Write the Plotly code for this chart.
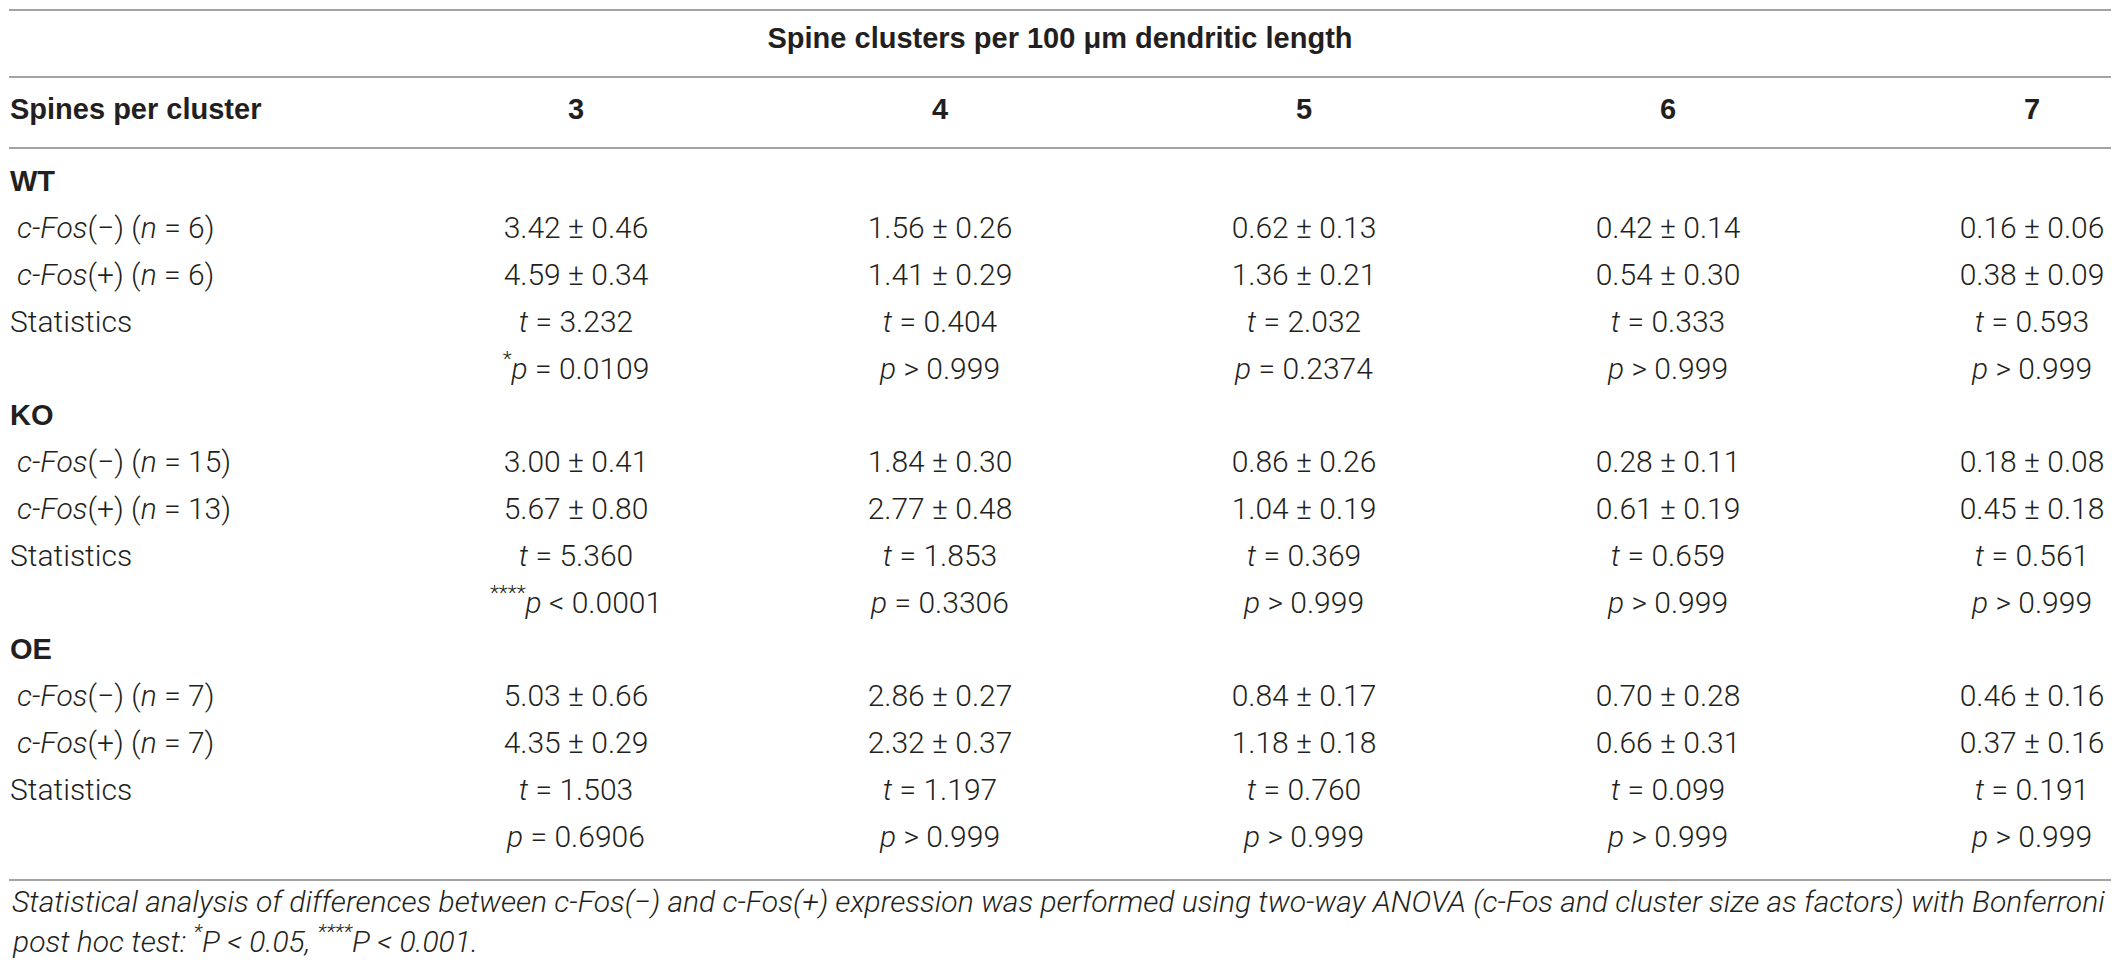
import plotly.graph_objects as go

# --- table data -------------------------------------------------------------
cluster_sizes = [3, 4, 5, 6, 7]
span_title = "Spine clusters per 100 \u03bcm dendritic length"
first_header = "Spines per cluster"
genotypes = ["WT", "KO", "OE"]
n_neg = [6, 15, 7]
n_pos = [6, 13, 7]

wt_neg_mean = [3.42, 1.56, 0.62, 0.42, 0.16]
wt_neg_sem = [0.46, 0.26, 0.13, 0.14, 0.06]
wt_pos_mean = [4.59, 1.41, 1.36, 0.54, 0.38]
wt_pos_sem = [0.34, 0.29, 0.21, 0.30, 0.09]
wt_t = [3.232, 0.404, 2.032, 0.333, 0.593]
wt_p = ["= 0.0109", "> 0.999", "= 0.2374", "> 0.999", "> 0.999"]
wt_stars = ["*", "", "", "", ""]

ko_neg_mean = [3.00, 1.84, 0.86, 0.28, 0.18]
ko_neg_sem = [0.41, 0.30, 0.26, 0.11, 0.08]
ko_pos_mean = [5.67, 2.77, 1.04, 0.61, 0.45]
ko_pos_sem = [0.80, 0.48, 0.19, 0.19, 0.18]
ko_t = [5.360, 1.853, 0.369, 0.659, 0.561]
ko_p = ["< 0.0001", "= 0.3306", "> 0.999", "> 0.999", "> 0.999"]
ko_stars = ["****", "", "", "", ""]

oe_neg_mean = [5.03, 2.86, 0.84, 0.70, 0.46]
oe_neg_sem = [0.66, 0.27, 0.17, 0.28, 0.16]
oe_pos_mean = [4.35, 2.32, 1.18, 0.66, 0.37]
oe_pos_sem = [0.29, 0.37, 0.18, 0.31, 0.16]
oe_t = [1.503, 1.197, 0.760, 0.099, 0.191]
oe_p = ["= 0.6906", "> 0.999", "> 0.999", "> 0.999", "> 0.999"]
oe_stars = ["", "", "", "", ""]

footnote_lines = [
    "Statistical analysis of differences between c-Fos(\u2212) and c-Fos(+) expression was "
    "performed using two-way ANOVA (c-Fos and cluster size as factors) with Bonferroni",
    "post hoc test: <sup>*</sup>P &lt; 0.05, <sup>****</sup>P &lt; 0.001.",
]

# --- layout constants (all in window pixels) --------------------------------
W, H = 2119, 968
BODY_MARGIN = 8             # the page body sits 8px in from the window edge
PX_PER_COL = 364.0          # pixels between column centres
MID_COL_PX = 1304.0         # pixel centre of the middle column (size 5)
ROW_PX = 46.8               # pixels between body rows
FIRST_ROW_PX = 184          # pixel centre of the first body row

fig_w = W - 2 * BODY_MARGIN
fig_h = H - 2 * BODY_MARGIN


def px_x(px):
    return 5 + (px - MID_COL_PX) / PX_PER_COL


def px_y(px):
    return (px - FIRST_ROW_PX) / ROW_PX


x_lo, x_hi = px_x(BODY_MARGIN), px_x(BODY_MARGIN + fig_w)
y_top, y_bot = px_y(BODY_MARGIN), px_y(BODY_MARGIN + fig_h)

TEXT = "#231f20"
RULE = "#a3a3a3"
LIGHT = "Roboto, Liberation Sans, sans-serif"
body_font = dict(family=LIGHT, size=30, color=TEXT, weight=300)
bold_font = dict(family="Liberation Sans, Arial, sans-serif", size=29, color=TEXT, weight=700)


def fmt_ms(means, sems):
    return [f"{m:.2f} \u00b1 {s:.2f}" for m, s in zip(means, sems)]


def fmt_t(ts):
    return [f"<i>t</i> = {t:.3f}" for t in ts]


def fmt_p(ps, stars):
    return [(f"<sup>{s}</sup>" if s else "") + f"<i>p</i> {p.replace('<', '&lt;')}"
            for p, s in zip(ps, stars)]


def text_trace(x, y, text, font, position="middle center"):
    return go.Scatter(x=x, y=y, mode="text", text=text, textposition=position,
                      textfont=font, hoverinfo="skip", cliponaxis=False)


blocks = [
    (wt_neg_mean, wt_neg_sem, wt_pos_mean, wt_pos_sem, wt_t, wt_p, wt_stars),
    (ko_neg_mean, ko_neg_sem, ko_pos_mean, ko_pos_sem, ko_t, ko_p, ko_stars),
    (oe_neg_mean, oe_neg_sem, oe_pos_mean, oe_pos_sem, oe_t, oe_p, oe_stars),
]

LEFT_PX = 10      # left edge of the label column
INDENT_PX = 17    # indented sub-row labels

fig = go.Figure()

# header rows
fig.add_trace(text_trace([px_x(1060)], [px_y(41)], [f"<b>{span_title}</b>"], bold_font))
fig.add_trace(text_trace(cluster_sizes, [px_y(112)] * len(cluster_sizes),
                         [f"<b>{c}</b>" for c in cluster_sizes], bold_font))
fig.add_trace(text_trace([px_x(LEFT_PX)], [px_y(112)], [f"<b>{first_header}</b>"], bold_font,
                         "middle right"))

row = 0
for name, nn, np_, blk in zip(genotypes, n_neg, n_pos, blocks):
    neg_m, neg_s, pos_m, pos_s, ts, ps, stars = blk
    labels = [
        (f"<b>{name}</b>", bold_font, LEFT_PX),
        (f"<i>c-Fos</i>(\u2212) (<i>n</i> = {nn})", body_font, INDENT_PX),
        (f"<i>c-Fos</i>(+) (<i>n</i> = {np_})", body_font, INDENT_PX),
        ("Statistics", body_font, LEFT_PX),
        ("", body_font, LEFT_PX),
    ]
    cells = [None, fmt_ms(neg_m, neg_s), fmt_ms(pos_m, pos_s), fmt_t(ts), fmt_p(ps, stars)]
    for (lab, font, indent), vals in zip(labels, cells):
        if lab:
            fig.add_trace(text_trace([px_x(indent)], [row], [lab], font, "middle right"))
        if vals:
            fig.add_trace(text_trace(cluster_sizes, [row] * len(vals), vals, body_font))
        row += 1

# horizontal rules
for rule_px in [10, 77, 148, 880]:
    fig.add_shape(type="line", xref="x", yref="y", x0=px_x(LEFT_PX - 1), x1=px_x(2111),
                  y0=px_y(rule_px), y1=px_y(rule_px), line=dict(color=RULE, width=2))

# footnote
for line, fpx in zip(footnote_lines, [901, 939]):
    fig.add_annotation(
        x=px_x(LEFT_PX), y=px_y(fpx), xref="x", yref="y", xanchor="left", yanchor="middle",
        text=f"<i>{line}</i>", showarrow=False,
        font=dict(family=LIGHT, size=30, color=TEXT, weight=300),
    )

fig.update_layout(
    width=fig_w, height=fig_h,
    margin=dict(l=0, r=0, t=0, b=0, pad=0),
    paper_bgcolor="white", plot_bgcolor="white",
    showlegend=False,
    xaxis=dict(range=[x_lo, x_hi], visible=False, fixedrange=True),
    yaxis=dict(range=[y_bot, y_top], visible=False, fixedrange=True),
)

fig.write_html("out.html")
